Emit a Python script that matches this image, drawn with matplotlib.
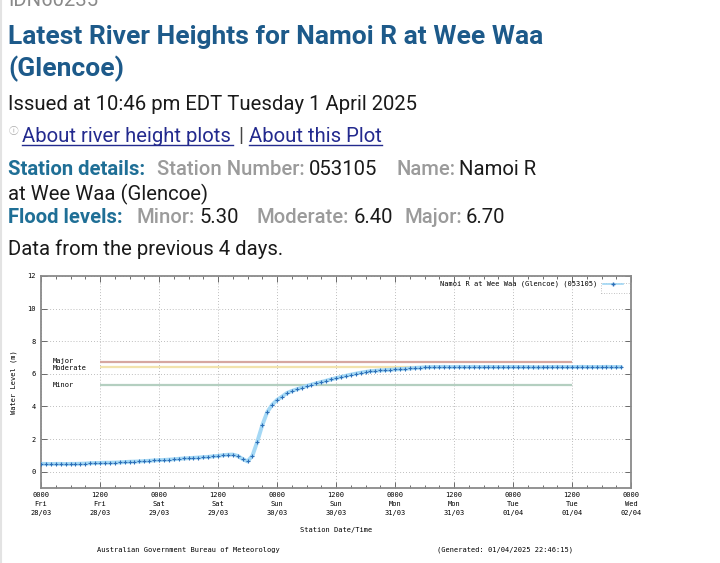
import matplotlib
matplotlib.use('Agg')
import matplotlib.pyplot as plt
from matplotlib.lines import Line2D
from matplotlib.patches import Rectangle
from matplotlib.ticker import MultipleLocator

# hourly water level (m) from 0000 Fri 28/03
levels = [
    0.48, 0.48, 0.47, 0.48, 0.48, 0.47, 0.48, 0.48, 0.49, 0.50,
    0.52, 0.53, 0.54, 0.55, 0.55, 0.56, 0.57, 0.59, 0.61, 0.62,
    0.63, 0.65, 0.67, 0.69, 0.71, 0.72, 0.74, 0.76, 0.79, 0.81,
    0.83, 0.85, 0.87, 0.89, 0.91, 0.94, 0.97, 1.01, 1.04, 1.05,
    0.97, 0.78, 0.63, 0.98, 1.85, 2.85, 3.65, 4.10, 4.40, 4.60,
    4.82, 4.95, 5.05, 5.15, 5.25, 5.34, 5.42, 5.50, 5.58, 5.66,
    5.74, 5.81, 5.88, 5.95, 6.01, 6.07, 6.12, 6.16, 6.19, 6.21,
    6.23, 6.25, 6.27, 6.29, 6.31, 6.33, 6.36, 6.38, 6.40, 6.41,
    6.42, 6.42, 6.43, 6.42, 6.42, 6.43, 6.42, 6.42, 6.43, 6.42,
    6.42, 6.43, 6.42, 6.42, 6.42, 6.42, 6.43, 6.42, 6.42, 6.42,
    6.41, 6.40, 6.41, 6.42, 6.42, 6.43, 6.42, 6.42, 6.42, 6.42,
    6.43, 6.42, 6.42, 6.42, 6.42, 6.43, 6.42, 6.42, 6.42,
]
hours = list(range(len(levels)))

flood_names = ['Major', 'Moderate', 'Minor']
flood_values = [6.70, 6.40, 5.30]
flood_colors = ['#d6a7a0', '#f2e3ad', '#b4cfc0']
flood_span = [12, 108]

tick_hours = [0, 12, 24, 36, 48, 60, 72, 84, 96, 108, 120]
tick_times = ['0000', '1200'] * 5 + ['0000']
tick_days = ['Fri', 'Fri', 'Sat', 'Sat', 'Sun', 'Sun', 'Mon', 'Mon', 'Tue', 'Tue', 'Wed']
tick_dates = ['28/03', '28/03', '29/03', '29/03', '30/03', '30/03',
              '31/03', '31/03', '01/04', '01/04', '02/04']

W, H = 720, 563
fig = plt.figure(figsize=(W / 100, H / 100), dpi=100)
fig.patch.set_facecolor('white')
renderer = fig.canvas.get_renderer()


def fx(x):
    return x / W


def fy(y):
    return 1 - y / H


SANS = 'Roboto'
MONO = 'DejaVu Sans Mono'
BODY = 14.6
TITLE_C = '#1d5a8a'
TEAL = '#1f6f96'
GRAY = '#9b9b9b'
INK = '#1a1a1a'
LINK = '#232a8e'

# page frame line on the left
fig.add_artist(Line2D([fx(1), fx(1)], [0, 1], color='#e3e3e3', lw=1.5))

fig.text(fx(8), fy(6), 'IDN60235', fontsize=BODY, color='#8a8a8a', family=SANS, va='baseline')
fig.text(fx(8), fy(44), 'Latest River Heights for Namoi R at Wee Waa', fontsize=19,
         fontweight='bold', color=TITLE_C, family=SANS, va='baseline')
fig.text(fx(8), fy(76), '(Glencoe)', fontsize=19, fontweight='bold', color=TITLE_C,
         family=SANS, va='baseline')
fig.text(fx(8), fy(110), 'Issued at 10:46 pm EDT Tuesday 1 April 2025', fontsize=BODY,
         color=INK, family=SANS, va='baseline')

# links line
fig.text(fx(9), fy(134), '\u24d8', fontsize=7, color='#aaaaaa',
         family=['Noto Sans CJK JP', 'DejaVu Sans'], va='baseline')
fig.text(fx(22), fy(142), 'About river height plots', fontsize=BODY, color=LINK, family=SANS, va='baseline')
fig.text(fx(238), fy(142), '|', fontsize=BODY, color='#444444', family=SANS, va='baseline')
fig.text(fx(249), fy(142), 'About this Plot', fontsize=BODY, color=LINK, family=SANS, va='baseline')
for x0, x1 in [(22, 233), (249, 382)]:
    fig.add_artist(Line2D([fx(x0), fx(x1)], [fy(145), fy(145)], color=LINK, lw=1))


def label_value(x, y, label, value, lcolor, lweight):
    t = fig.text(fx(x), fy(y), label, fontsize=BODY, color=lcolor, fontweight=lweight,
                 family=SANS, va='baseline')
    x_end = t.get_window_extent(renderer).x1
    if value:
        fig.text((x_end + 4) / W, fy(y), value, fontsize=BODY, color=INK,
                 family=SANS, va='baseline')


# station details
label_value(8, 175, 'Station details:', '', TEAL, 'bold')
label_value(157, 175, 'Station Number:', '053105', GRAY, 'medium')
label_value(396, 175, 'Name:', 'Namoi R', GRAY, 'medium')
fig.text(fx(8), fy(200), 'at Wee Waa (Glencoe)', fontsize=BODY, color=INK, family=SANS, va='baseline')
label_value(8, 223, 'Flood levels:', '', TEAL, 'bold')
label_value(137, 223, 'Minor:', '5.30', GRAY, 'medium')
label_value(257, 223, 'Moderate:', '6.40', GRAY, 'medium')
label_value(404, 223, 'Major:', '6.70', GRAY, 'medium')
fig.text(fx(8), fy(255), 'Data from the previous 4 days.', fontsize=BODY, color=INK,
         family=SANS, va='baseline')

# ---- plot ----
ax = fig.add_axes([fx(41), fy(488), (631 - 41) / W, (488 - 276) / H])
ax.set_xlim(0, 120)
ax.set_ylim(-1, 12)

ax.xaxis.set_minor_locator(MultipleLocator(3))
ax.set_xticks(tick_hours)
ax.set_xticklabels([f'{t}\n{d}\n{dt}' for t, d, dt in zip(tick_times, tick_days, tick_dates)],
                   fontsize=5, family=MONO, linespacing=1.55)
ax.set_yticks([0, 2, 4, 6, 8, 10, 12])
ax.set_yticklabels(['0', '2', '4', '6', '8', '10', '12'], fontsize=5, family=MONO)
ax.tick_params(which='both', direction='in', top=True, right=True, color='#555555', width=0.6)
ax.tick_params(which='major', length=4)
ax.tick_params(which='minor', length=2.5)
ax.tick_params(axis='x', pad=3)
ax.tick_params(axis='y', pad=4)

for sp in ax.spines.values():
    sp.set_color('#8a8a8a')
    sp.set_linewidth(1.3)

ax.grid(True, which='major', color='#a8a8a8', linestyle=(0, (1, 2.5)), linewidth=0.6)

for name, val, col in zip(flood_names, flood_values, flood_colors):
    ax.plot(flood_span, [val, val], color=col, lw=1.6, solid_capstyle='butt', zorder=2)
ax.text(2.3, flood_values[0] + 0.1, flood_names[0], fontsize=5, family=MONO, va='center')
ax.text(2.3, flood_values[1] - 0.05, flood_names[1], fontsize=5, family=MONO, va='center')
ax.text(2.3, flood_values[2], flood_names[2], fontsize=5, family=MONO, va='center')

ax.plot(hours, levels, color='#a4d8f5', lw=2.8, zorder=3, solid_capstyle='round')
ax.plot(hours, levels, color='#2d6fb8', lw=0, marker='+', markersize=2.6,
        markeredgewidth=0.8, zorder=4)

# key
ax.text((597 - 41) / 590, (488 - 284) / 212, 'Namoi R at Wee Waa (Glencoe) (053105)',
        transform=ax.transAxes, fontsize=5, family=MONO, ha='right', va='center')
ax.plot([(603 - 41) / 590, (623 - 41) / 590], [(488 - 284) / 212] * 2, transform=ax.transAxes,
        color='#9fd6f4', lw=1.2)
ax.plot([(613 - 41) / 590], [(488 - 284) / 212], transform=ax.transAxes,
        color='#2d6fb8', marker='+', markersize=3, lw=0)
ax.add_patch(Rectangle(((601 - 41) / 590, (488 - 293) / 212), 29 / 590, 10 / 212,
                       transform=ax.transAxes, fill=False, edgecolor='#b0b0b0',
                       linestyle=(0, (1, 2)), lw=0.6))

ax.set_ylabel('Water Level (m)', fontsize=5, family=MONO, va='center')
ax.yaxis.set_label_coords((14 - 41) / 590, 0.5)
ax.set_xlabel('Station Date/Time', fontsize=5, family=MONO, va='center')
ax.xaxis.set_label_coords(0.5, -(530 - 488) / 212)

fig.text(fx(188), fy(550), 'Australian Government Bureau of Meteorology', fontsize=5,
         family=MONO, ha='center', va='center')
fig.text(fx(505), fy(550), '(Generated: 01/04/2025 22:46:15)', fontsize=5,
         family=MONO, ha='center', va='center')

fig.savefig('out.png', dpi=100, facecolor='white')
